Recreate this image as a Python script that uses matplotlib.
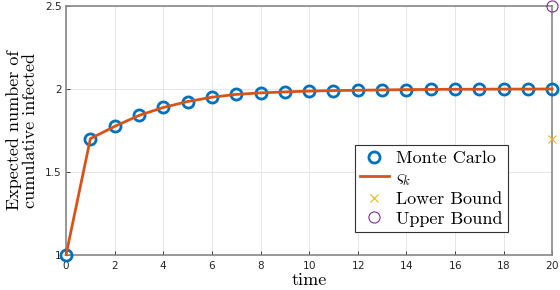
import matplotlib
matplotlib.use('Agg')
import matplotlib.pyplot as plt

t = list(range(21))
monte_carlo = [1.0, 1.70, 1.774, 1.840, 1.888, 1.924, 1.950, 1.967, 1.976, 1.982,
               1.987, 1.990, 1.992, 1.994, 1.996, 1.997, 1.998, 1.998, 1.999, 1.999, 2.0]
sigma_k = [1.0, 1.70, 1.774, 1.840, 1.888, 1.924, 1.950, 1.967, 1.976, 1.982,
           1.987, 1.990, 1.992, 1.994, 1.996, 1.997, 1.998, 1.998, 1.999, 1.999, 2.0]
bound_t = [20]
lower_bound = [1.70]
upper_bound = [2.5]

plt.rcParams['mathtext.fontset'] = 'cm'
plt.rcParams['axes.formatter.use_mathtext'] = True

fig = plt.figure(figsize=(5.6, 2.9), dpi=100)
ax = fig.add_axes([0.118, 0.122, 0.868, 0.857])

ax.plot(t, monte_carlo, 'o', ms=8, mfc='none', mec='#0072BD', mew=2.0,
        label='Monte Carlo', zorder=3, clip_on=False)
ax.plot(t, sigma_k, '-', color='#D95319', lw=2.0, label=r'$\varsigma_k$', zorder=4, clip_on=False)
ax.plot(bound_t, lower_bound, 'x', color='#EDB120', ms=6, mew=0.8,
        label='Lower Bound', clip_on=False, zorder=5)
ax.plot(bound_t, upper_bound, 'o', mfc='none', mec='#7E2F8E', ms=8, mew=0.8,
        label='Upper Bound', clip_on=False, zorder=5)

ax.set_xlim(0, 20)
ax.set_ylim(1, 2.5)
ax.set_xticks(range(0, 21, 2))
ax.set_yticks([1, 1.5, 2, 2.5])
ax.set_yticklabels(['1', '1.5', '2', '2.5'])
ax.tick_params(direction='in', length=3, labelsize=7.5, colors='#262626', width=0.6, pad=3)
ax.grid(True, color='#e6e6e6', lw=0.7)
ax.set_axisbelow(True)
for s in ax.spines.values():
    s.set_color('#888888')
    s.set_linewidth(1.2)

ax.set_xlabel('time', family='cmr10', fontsize=13, labelpad=1)
ax.set_ylabel('Expected number of\ncumulative infected', family='cmr10',
              fontsize=13, linespacing=1.05, labelpad=5)

leg = ax.legend(loc='lower left', bbox_to_anchor=(0.575, 0.055), prop={'family': 'cmr10', 'size': 13},
                fancybox=False, edgecolor='#333333', framealpha=1, borderpad=0.3,
                labelspacing=0.2, handlelength=1.6, handletextpad=0.4)
leg.get_frame().set_linewidth(0.8)

fig.savefig('out.png', dpi=100)
